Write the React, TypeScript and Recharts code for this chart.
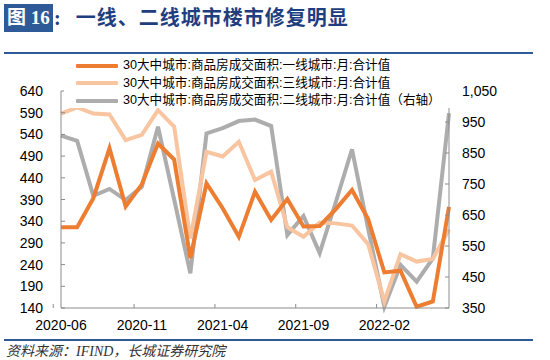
import { LineChart, Line, XAxis, YAxis, Legend } from "recharts"

// 2020-06 .. 2022-06
const months = [
  "2020-06", "2020-07", "2020-08", "2020-09", "2020-10", "2020-11", "2020-12",
  "2021-01", "2021-02", "2021-03", "2021-04", "2021-05", "2021-06", "2021-07",
  "2021-08", "2021-09", "2021-10", "2021-11", "2021-12", "2022-01", "2022-02",
  "2022-03", "2022-04", "2022-05", "2022-06",
]
const tier1 = [326, 326, 393, 508, 374, 425, 519, 482, 255, 427, 370, 304, 408, 343, 391, 328, 329, 368, 412, 345, 222, 226, 143, 155, 373]
const tier3 = [588, 602, 588, 586, 527, 539, 596, 558, 300, 500, 489, 523, 435, 454, 326, 304, 337, 335, 330, 287, 155, 264, 247, 253, 321]
const tier2 = [906, 889, 712, 734, 698, 741, 935, 700, 462, 913, 930, 953, 958, 937, 585, 647, 527, 692, 862, 605, 354, 489, 435, 510, 978]

const leftTicks = [140, 190, 240, 290, 340, 390, 440, 490, 540, 590, 640]
const rightTicks = [350, 450, 550, 650, 750, 850, 950, 1050]

const NAME1 = "30大中城市:商品房成交面积:一线城市:月:合计值"
const NAME3 = "30大中城市:商品房成交面积:三线城市:月:合计值"
const NAME2 = "30大中城市:商品房成交面积:二线城市:月:合计值（右轴）"

const data = months.map((m, i) => ({ month: m, t1: tier1[i], t3: tier3[i], t2: tier2[i] }))

const ORANGE = "#ED7D31"
const PEACH = "#F8C5A0"
const GRAY = "#ADADAD"
const AXIS = "#8C8C8C"
const BLUE = "#2F5A98"
const LABEL_FONT = "'Liberation Sans', Arial, sans-serif"

const legendItems = [
  { name: NAME1, color: ORANGE },
  { name: NAME3, color: PEACH },
  { name: NAME2, color: GRAY },
]

function XTick(props: any) {
  const { x, y, payload } = props
  const off = typeof payload?.offset === "number" && payload.offset > 0 ? payload.offset : 7.76
  const axisY = y - 12
  return (
    <g>
      <line x1={x - off} x2={x - off} y1={axisY} y2={axisY - 4} stroke={AXIS} />
      <text x={x} y={y} dy="0.71em" textAnchor="middle" fill="#000" fontSize={14} fontFamily={LABEL_FONT}>
        {payload.value}
      </text>
    </g>
  )
}

function LeftTick(props: any) {
  const { x, y, payload } = props
  return (
    <g>
      <line x1={x + 18} x2={x + 22} y1={y} y2={y} stroke={AXIS} />
      <text x={x} y={y} dy="0.36em" textAnchor="end" fill="#000" fontSize={14} fontFamily={LABEL_FONT}>
        {payload.value}
      </text>
    </g>
  )
}

function RightTick(props: any) {
  const { x, y, payload } = props
  return (
    <g>
      <line x1={x - 13} x2={x - 17} y1={y} y2={y} stroke={AXIS} />
      <text x={x} y={y} dy="0.36em" textAnchor="start" fill="#000" fontSize={14} fontFamily={LABEL_FONT}>
        {Number(payload.value).toLocaleString("en-US")}
      </text>
    </g>
  )
}

function LegendBox() {
  return (
    <div style={{ paddingTop: 1 }}>
      {legendItems.map((it) => (
        <div key={it.name} style={{ display: "flex", alignItems: "center", height: 17.5 }}>
          <div style={{ width: 42, height: 4, background: it.color, marginLeft: 12, marginRight: 5, borderRadius: 1 }} />
          <span
            style={{
              fontSize: 12.6,
              color: "#000",
              fontFamily: "'Liberation Sans', Arial, 'Noto Sans CJK SC', sans-serif",
              whiteSpace: "nowrap",
              lineHeight: "17px",
            }}
          >
            {it.name}
          </span>
        </div>
      ))}
    </div>
  )
}

export default function App() {
  return (
    <div style={{ position: "absolute", left: 0, top: 0, width: 550, height: 360, background: "#fff", overflow: "hidden" }}>
      {/* title */}
      <div
        style={{
          position: "absolute", left: 4, top: 4, width: 49, height: 28, background: BLUE,
          color: "#fff", fontSize: 19, fontWeight: 700, lineHeight: "28px",
          fontFamily: "'Liberation Serif', 'Noto Sans CJK SC', serif", textAlign: "center",
        }}
      >
        图 16
      </div>
      <div
        style={{
          position: "absolute", left: 54, top: 4, height: 28, lineHeight: "28px", color: "#1F3E80",
          fontSize: 20, fontWeight: 700, fontFamily: "'Liberation Serif', 'Noto Sans CJK SC', serif",
          whiteSpace: "nowrap",
        }}
      >
        :<span style={{ marginLeft: 15, letterSpacing: 1 }}>一线、二线城市楼市修复明显</span>
      </div>
      <div style={{ position: "absolute", left: 4, top: 52, width: 529, height: 2, background: BLUE }} />

      <div style={{ position: "absolute", left: 0, top: 0 }}>
        <LineChart width={550} height={360} data={data} margin={{ top: 91, right: 41, bottom: 22, left: 0 }}>
          <XAxis
            dataKey="month"
            interval={4}
            stroke={AXIS}
            tickLine={false}
            tickSize={0}
            tickMargin={12}
            height={30}
            tick={<XTick />}
          />
          <YAxis
            yAxisId="left"
            domain={[140, 640]}
            ticks={leftTicks}
            interval={0}
            stroke={AXIS}
            tickLine={false}
            tickSize={0}
            tickMargin={18}
            width={61}
            tick={<LeftTick />}
          />
          <YAxis
            yAxisId="right"
            orientation="right"
            domain={[350, 1050]}
            ticks={rightTicks}
            interval={0}
            stroke={AXIS}
            tickLine={false}
            tickSize={0}
            tickMargin={13}
            width={60}
            tick={<RightTick />}
          />
          <Legend
            layout="vertical"
            verticalAlign="middle"
            align="center"
            wrapperStyle={{ left: 64, top: 56, width: 387, height: 52, background: "#fff" }}
            content={() => <LegendBox />}
          />
          <Line yAxisId="right" dataKey="t2" name={NAME2} stroke={GRAY} strokeWidth={4} dot={false} isAnimationActive={false} />
          <Line yAxisId="left" dataKey="t3" name={NAME3} stroke={PEACH} strokeWidth={4} dot={false} isAnimationActive={false} />
          <Line yAxisId="left" dataKey="t1" name={NAME1} stroke={ORANGE} strokeWidth={4} dot={false} isAnimationActive={false} />
        </LineChart>
      </div>

      <div style={{ position: "absolute", left: 4, top: 339, width: 529, height: 2, background: BLUE }} />
      <div
        style={{
          position: "absolute", left: 6, top: 343, fontSize: 14, fontStyle: "italic", color: "#333",
          fontFamily: "'Liberation Serif', 'Noto Sans CJK SC', serif", whiteSpace: "nowrap", lineHeight: "18px",
        }}
      >
        资料来源：IFIND，长城证券研究院
      </div>
    </div>
  )
}
